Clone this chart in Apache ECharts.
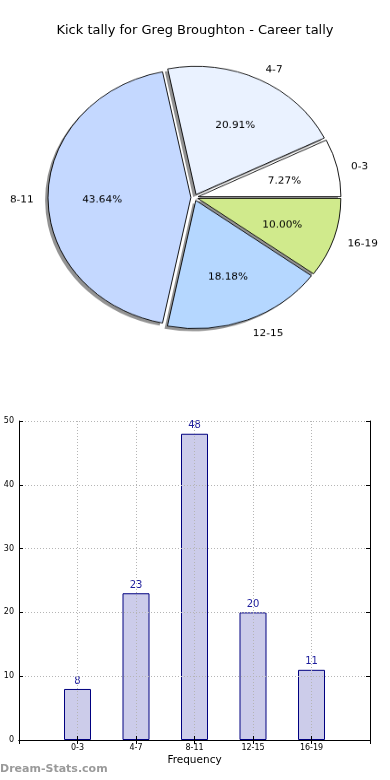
<!DOCTYPE html>
<html>
<head>
<meta charset="utf-8">
<script src="https://cdn.jsdelivr.net/npm/echarts@6/dist/echarts.min.js"></script>
<style>
html,body{margin:0;padding:0;background:#fff;}
#main{position:absolute;left:0;top:0;width:390px;height:780px;}
#pie{position:absolute;left:0;top:0;width:390px;height:400px;transform:scaleY(0.897);transform-origin:194.5px 197.4px;}
</style>
</head>
<body>
<div id="main"></div>
<div id="pie"></div>
<script>
// ---- data ----
const categories = ['0-3', '4-7', '8-11', '12-15', '16-19'];
const kickCounts = [8, 23, 48, 20, 11];
const yTicks = [0, 10, 20, 30, 40, 50];
const chartTitle = 'Kick tally for Greg Broughton - Career tally';
const xAxisName = 'Frequency';
const watermark = 'Dream-Stats.com';

// ---- styles ----
const pieColors = ['#ffffff', '#eaf2ff', '#c4d8ff', '#b5d7ff', '#d0ea8c'];
const FONT = 'DejaVu Sans';
const PIE_C = [194.5, 197.4];
const PIE_R = 142.9;
const EXPLODE = 3.6;

const pieData = categories.map((c, i) => ({ name: c, value: kickCounts[i], selected: true }));

const pieChart = echarts.init(document.getElementById('pie'), null, { renderer: 'canvas' });
pieChart.setOption({
  animation: false,
  series: [
    {
      type: 'pie', silent: true, startAngle: 0, clockwise: false,
      center: [PIE_C[0] - 2.9, PIE_C[1] + 2.9], radius: [0, PIE_R],
      selectedMode: 'multiple', selectedOffset: EXPLODE,
      avoidLabelOverlap: false,
      label: { show: false }, labelLine: { show: false },
      emphasis: { disabled: true, scale: false },
      itemStyle: { color: 'rgba(40,40,40,0.5)', borderWidth: 0 },
      data: pieData
    },
    {
      type: 'pie', silent: true, startAngle: 0, clockwise: false,
      center: PIE_C, radius: [0, PIE_R],
      selectedMode: 'multiple', selectedOffset: EXPLODE,
      avoidLabelOverlap: false,
      emphasis: { disabled: true, scale: false },
      itemStyle: { color: p => pieColors[p.dataIndex], borderColor: '#000', borderWidth: 0.9 },
      label: { show: true, position: 'outside', formatter: '{b}', color: '#000', fontFamily: FONT, fontSize: 10.5, distanceToLabelLine: 0 },
      labelLine: { show: false, length: PIE_R * 0.1, length2: 0 },
      labelLayout: { dy: 2.5 },
      data: pieData
    },
    {
      type: 'pie', silent: true, startAngle: 0, clockwise: false,
      center: PIE_C, radius: [PIE_R * 0.2, PIE_R],
      selectedMode: 'multiple', selectedOffset: EXPLODE,
      avoidLabelOverlap: false,
      emphasis: { disabled: true, scale: false },
      itemStyle: { color: 'rgba(0,0,0,0)', borderWidth: 0 },
      label: { show: true, position: 'inside', formatter: p => p.percent.toFixed(2) + '%', color: '#000', fontFamily: FONT, fontSize: 10.5 },
      labelLine: { show: false },
      labelLayout: { dy: 2.5 },
      data: pieData
    }
  ]
});

const paddedCats = [''].concat(categories, ['']);
const barData = [null].concat(kickCounts, [null]);
const yMin = yTicks[0], yMax = yTicks[yTicks.length - 1], yStep = yTicks[1] - yTicks[0];

const chart = echarts.init(document.getElementById('main'), null, { renderer: 'canvas' });
chart.setOption({
  animation: false,
  title: {
    text: chartTitle, left: 'center', top: 19,
    textStyle: { fontFamily: FONT, fontSize: 13, fontWeight: 'normal', color: '#000' }
  },
  graphic: [{
    type: 'text', left: 0, top: 764,
    style: { text: watermark, fill: '#9a9a9a', font: 'bold 11px "DejaVu Sans"' }
  }],
  grid: { left: 19, right: 20, top: 421, bottom: 40, show: false },
  xAxis: [
    {
      type: 'category', data: paddedCats, boundaryGap: false, z: 5,
      axisLine: { show: true, lineStyle: { color: '#000', width: 1 } },
      axisTick: { show: true, inside: true, length: 4, interval: 0, lineStyle: { color: '#000' } },
      axisLabel: { interval: 0, fontFamily: FONT, fontSize: 8, color: '#000', margin: 4 },
      splitLine: { show: true, interval: 0, lineStyle: { color: '#b5b5b5', type: [1, 2], width: 1 } },
      name: xAxisName, nameLocation: 'middle', nameGap: 15,
      nameTextStyle: { fontFamily: FONT, fontSize: 10.5, color: '#000' }
    },
    {
      type: 'category', data: paddedCats, boundaryGap: false, position: 'top', z: 5,
      axisLine: { show: true, lineStyle: { color: '#000', width: 1 } },
      axisTick: { show: true, inside: true, length: 4, interval: 0, lineStyle: { color: '#000' } },
      axisLabel: { show: false }, splitLine: { show: false }
    }
  ],
  yAxis: [
    {
      type: 'value', min: yMin, max: yMax, interval: yStep, z: 5,
      axisLine: { show: true, lineStyle: { color: '#000', width: 1 } },
      axisTick: { show: true, inside: true, length: 4, lineStyle: { color: '#000' } },
      axisLabel: { fontFamily: FONT, fontSize: 8, color: '#000', margin: 5 },
      splitLine: { show: true, lineStyle: { color: '#b5b5b5', type: [1, 2], width: 1 } }
    },
    {
      type: 'value', min: yMin, max: yMax, interval: yStep, position: 'right', z: 5,
      axisLine: { show: true, lineStyle: { color: '#000', width: 1 } },
      axisTick: { show: true, inside: true, length: 4, lineStyle: { color: '#000' } },
      axisLabel: { show: false }, splitLine: { show: false }
    }
  ],
  series: [{
    type: 'bar', data: barData, barWidth: 27, z: 1, silent: true,
    itemStyle: { color: '#ccccea', borderColor: '#000080', borderWidth: 1 },
    label: { show: true, position: 'top', distance: 3, color: '#1c1c9c', fontFamily: FONT, fontSize: 10 }
  }]
});
</script>
</body>
</html>
